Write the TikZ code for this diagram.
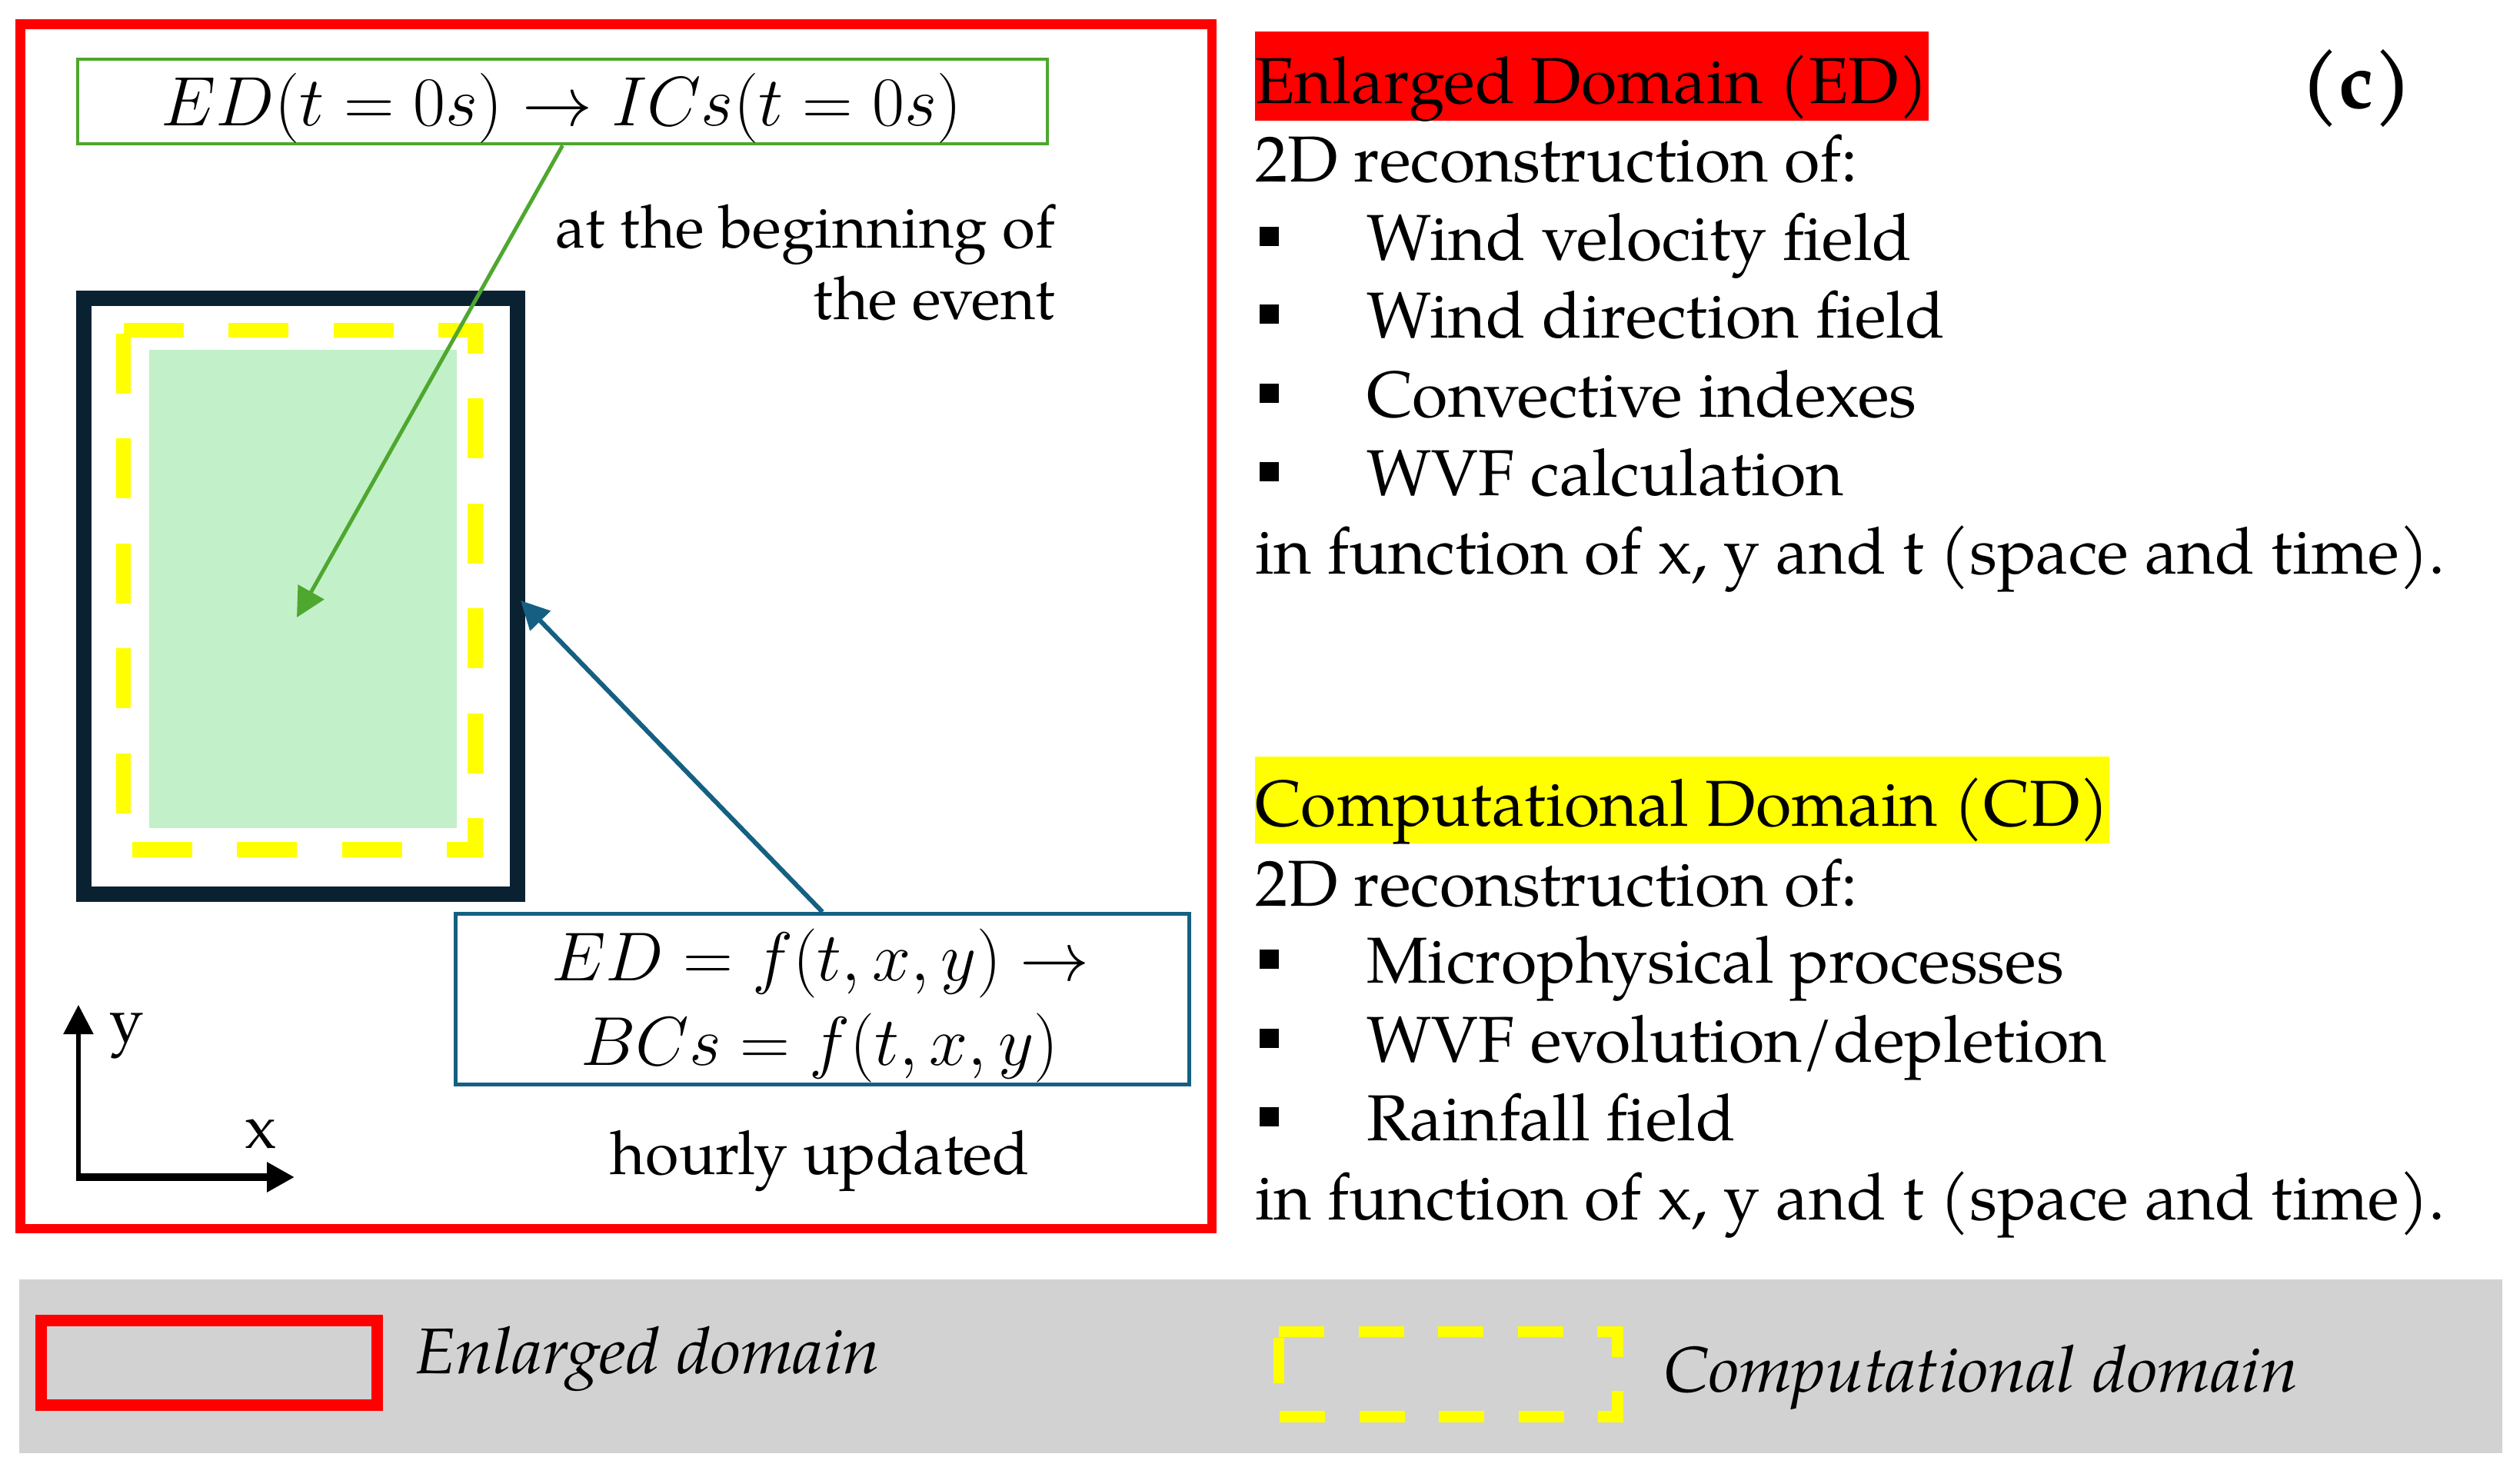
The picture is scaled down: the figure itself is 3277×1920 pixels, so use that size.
\RequirePackage{fix-cm}
\documentclass[tikz,border=0pt]{standalone}
\usepackage{fontspec}
\setmainfont{texgyrepagella}[Extension=.otf, UprightFont=*-regular, ItalicFont=*-italic, BoldFont=*-bold, BoldItalicFont=*-bolditalic]
\usetikzlibrary{arrows.meta}
\definecolor{edred}{RGB}{255,0,0}
\definecolor{icgreen}{RGB}{78,167,46}
\definecolor{navy}{RGB}{10,33,50}
\definecolor{cdfill}{RGB}{194,240,200}
\definecolor{bcblue}{RGB}{21,96,130}
\definecolor{cdyellow}{RGB}{255,255,0}
\definecolor{legendgray}{RGB}{210,210,210}
\newcommand\myfs[2]{\fontsize{#1pt}{#2pt}\selectfont}
\tikzset{
  txt/.style={inner sep=0pt, outer sep=0pt},
  bodytxt/.style={txt, anchor=base west, font=\myfs{84.5}{102}},
  bul/.style={fill=black, minimum size=25pt, inner sep=0pt, outer sep=0pt},
  garrow/.style={draw=icgreen, line width=5pt, -{Triangle[length=38pt,width=38pt]}},
  barrow/.style={draw=bcblue, line width=6pt, -{Triangle[length=37pt,width=36pt]}},
}
\begin{document}
\begin{tikzpicture}[x=1pt,y=-1pt]
\useasboundingbox (0,0) rectangle (3277,1920);
% enlarged domain frame
\draw[edred, line width=12.5pt] (26.5,31.5) rectangle (1576,1598);
% computational domain fill
\fill[cdfill] (194,455) rectangle (594,1077);
% computational domain dashed outline
\draw[cdyellow, line width=19.5pt, dash pattern=on 78pt off 58.5pt, line join=miter]
  (160.5,429.5) -- (618,429.5) -- (618,1105) -- (160.5,1105) -- cycle;
% domain outline
\draw[navy, line width=19.5pt] (109,388) rectangle (673,1163);
% ICs box
\node[draw=icgreen, line width=4.5pt, minimum width=1261pt, minimum height=110pt, inner sep=0pt] (icbox) at (731.5,132) {};
\node[txt, anchor=base, font=\myfs{91}{100}] (icform) at (730,163) {$ED(t=0s)\rightarrow ICs(t=0s)$};
% BCs box
\node[draw=bcblue, line width=4.8pt, minimum width=954pt, minimum height=222pt, inner sep=0pt] (bcbox) at (1069.5,1299.5) {};
\node[txt, anchor=base, font=\myfs{90}{100}] (bcform1) at (1067,1275) {$ED=f(t,x,y)\rightarrow$};
\node[txt, anchor=base, font=\myfs{90}{100}] (bcform2) at (1066,1385) {$BCs=f(t,x,y)$};
% labels
\node[txt, anchor=base east, font=\myfs{78}{93}] (lab1) at (1372,322) {at the beginning of};
\node[txt, anchor=base east, font=\myfs{78}{93}] (lab2) at (1372,415) {the event};
\node[txt, anchor=base, font=\myfs{79}{90}] (lab3) at (1066.5,1527) {hourly updated};
% arrows
\coordinate (gtip) at (386,803);
\coordinate (btip) at (677,781);
\draw[garrow] (icbox.south) -- (gtip);
\draw[barrow] (bcbox.north) -- (btip);
% axes
\coordinate (yorig) at (102,1535);
\coordinate (ytip) at (102,1307);
\coordinate (xorig) at (99,1531);
\coordinate (xtip) at (383,1531);
\draw[line width=5.7pt, -{Triangle[length=38pt,width=38pt]}] (yorig) -- (ytip);
\draw[line width=9.3pt, -{Triangle[length=36pt,width=37pt]}] (xorig) -- (xtip);
\node[txt, anchor=base west, font=\myfs{80}{90}] (ylab) at (142,1354) {y};
\node[txt, anchor=base west, font=\myfs{80}{90}] (xlab) at (318,1493) {x};
% right panel: ED
\node[bodytxt, fill=edred, text height=93pt, text depth=23pt] (edhead) at (1632,134) {Enlarged Domain (ED)};
\node[txt, anchor=base east, font=\myfs{102}{110}\bfseries] (panel) at (3137,140) {(c)};
\node[bodytxt] (ed0) at (1632,236) {2D reconstruction of:};
\node[bul] (eb1) at (1650.5,307.5) {};
\node[bodytxt] (ed1) at (1777,338) {Wind velocity field};
\node[bul] (eb2) at (1650.5,408.5) {};
\node[bodytxt] (ed2) at (1777,439) {Wind direction field};
\node[bul] (eb3) at (1650.5,511.5) {};
\node[bodytxt] (ed3) at (1777,542) {Convective indexes};
\node[bul] (eb4) at (1650.5,613.5) {};
\node[bodytxt] (ed4) at (1777,644) {WVF calculation};
\node[bodytxt] (ed5) at (1632,746) {in function of x, y and t (space and time).};
% right panel: CD
\node[bodytxt, fill=cdyellow, text height=90pt, text depth=23pt] (cdhead) at (1632,1074) {Computational Domain (CD)};
\node[bodytxt] (cd0) at (1632,1178) {2D reconstruction of:};
\node[bul] (cb1) at (1650.5,1247.5) {};
\node[bodytxt] (cd1) at (1777,1278) {Microphysical processes};
\node[bul] (cb2) at (1650.5,1350.5) {};
\node[bodytxt] (cd2) at (1777,1381) {WVF evolution/depletion};
\node[bul] (cb3) at (1650.5,1452.5) {};
\node[bodytxt] (cd3) at (1777,1483) {Rainfall field};
\node[bodytxt] (cd4) at (1632,1586) {in function of x, y and t (space and time).};
% legend
\fill[legendgray] (25,1664) rectangle (3254,1890);
\draw[edred, line width=15pt] (53,1717.5) rectangle (490,1827.5);
\node[txt, anchor=base west, font=\myfs{84}{90}\itshape] (legED) at (539,1786) {\scalebox{1.05}[1]{Enlarged domain}};
\draw[cdyellow, line width=14.7pt, dash pattern=on 59pt off 44.5pt, line join=miter]
  (1663,1732) -- (2103.5,1732) -- (2103.5,1842.5) -- (1663,1842.5) -- cycle;
\node[txt, anchor=base west, font=\myfs{84}{90}\itshape] (legCD) at (2163,1810) {\scalebox{1.06}[1]{Computational domain}};
\end{tikzpicture}
\end{document}
